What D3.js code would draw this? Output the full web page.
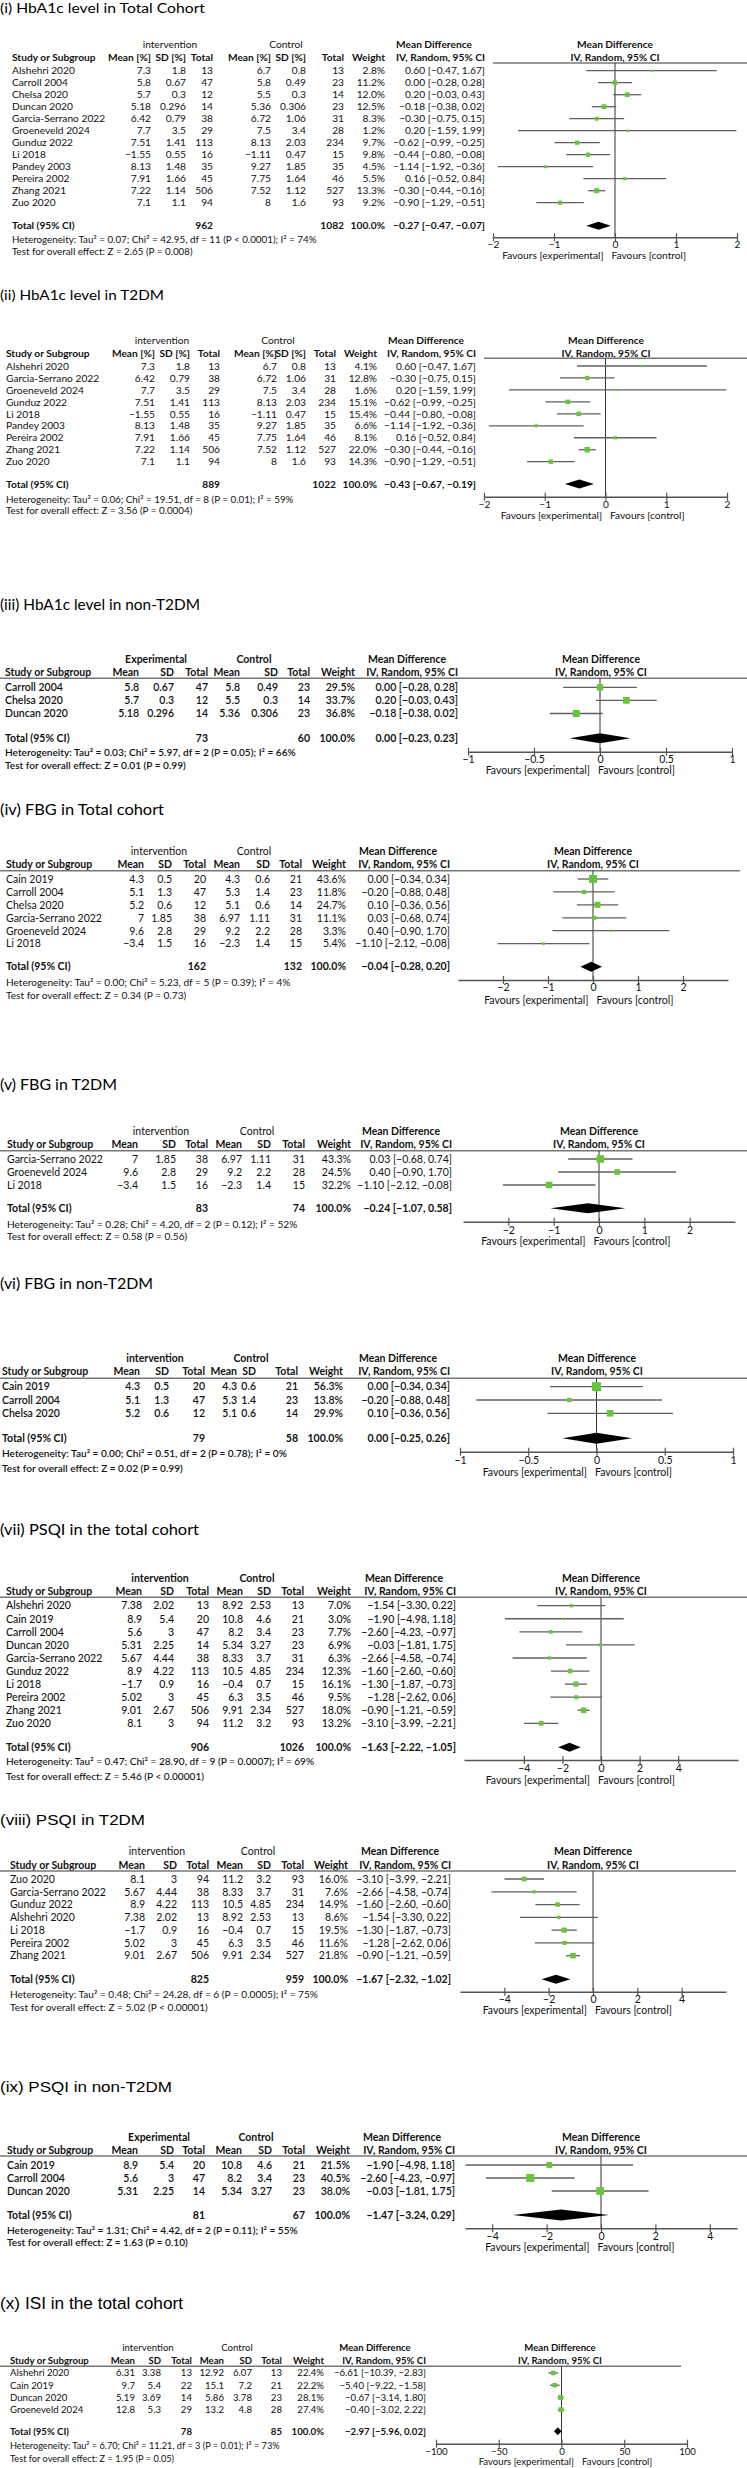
<!DOCTYPE html>
<html><head><meta charset="utf-8">
<script src="https://cdn.jsdelivr.net/npm/d3@7"></script>
<style>body{margin:0;background:#fff}svg{display:block}</style>
</head><body>
<script>
// ---------------- DATA ----------------
// values: [meanI, sdI, nI, meanC, sdC, nC, weight%, MD, lo, hi]
const titles = [
  "(i) HbA1c level in Total Cohort", "(ii) HbA1c level in T2DM", "(iii) HbA1c level in non-T2DM",
  "(iv) FBG in Total cohort", "(v) FBG in T2DM", "(vi) FBG in non-T2DM",
  "(vii) PSQI in the total cohort", "(viii) PSQI in T2DM", "(ix) PSQI in non-T2DM", "(x) ISI in the total cohort"
];
const groupLabels = ["intervention","intervention","Experimental","intervention","intervention","intervention","intervention","intervention","Experimental","intervention"];
const colHeadsPct = ["Mean [%]","SD [%]","Total","Mean [%]","SD [%]","Total","Weight","IV, Random, 95% CI"];
const colHeadsPlain = ["Mean","SD","Total","Mean","SD","Total","Weight","IV, Random, 95% CI"];

const studies1 = ["Alshehri 2020","Carroll 2004","Chelsa 2020","Duncan 2020","Garcia-Serrano 2022","Groeneveld 2024","Gunduz 2022","Li 2018","Pandey 2003","Pereira 2002","Zhang 2021","Zuo 2020"];
const values1 = [
  [7.3,1.8,13,6.7,0.8,13,2.8,0.60,-0.47,1.67],
  [5.8,0.67,47,5.8,0.49,23,11.2,0.00,-0.28,0.28],
  [5.7,0.3,12,5.5,0.3,14,12.0,0.20,-0.03,0.43],
  [5.18,0.296,14,5.36,0.306,23,12.5,-0.18,-0.38,0.02],
  [6.42,0.79,38,6.72,1.06,31,8.3,-0.30,-0.75,0.15],
  [7.7,3.5,29,7.5,3.4,28,1.2,0.20,-1.59,1.99],
  [7.51,1.41,113,8.13,2.03,234,9.7,-0.62,-0.99,-0.25],
  [-1.55,0.55,16,-1.11,0.47,15,9.8,-0.44,-0.80,-0.08],
  [8.13,1.48,35,9.27,1.85,35,4.5,-1.14,-1.92,-0.36],
  [7.91,1.66,45,7.75,1.64,46,5.5,0.16,-0.52,0.84],
  [7.22,1.14,506,7.52,1.12,527,13.3,-0.30,-0.44,-0.16],
  [7.1,1.1,94,8,1.6,93,9.2,-0.90,-1.29,-0.51]
];
const total1 = [962,1082,-0.27,-0.47,-0.07];
const het1 = "Heterogeneity: Tau² = 0.07; Chi² = 42.95, df = 11 (P < 0.0001); I² = 74%";
const test1 = "Test for overall effect: Z = 2.65 (P = 0.008)";
const ticks1 = [-2,-1,0,1,2];

const studies2 = ["Alshehri 2020","Garcia-Serrano 2022","Groeneveld 2024","Gunduz 2022","Li 2018","Pandey 2003","Pereira 2002","Zhang 2021","Zuo 2020"];
const values2 = [
  [7.3,1.8,13,6.7,0.8,13,4.1,0.60,-0.47,1.67],
  [6.42,0.79,38,6.72,1.06,31,12.8,-0.30,-0.75,0.15],
  [7.7,3.5,29,7.5,3.4,28,1.6,0.20,-1.59,1.99],
  [7.51,1.41,113,8.13,2.03,234,15.1,-0.62,-0.99,-0.25],
  [-1.55,0.55,16,-1.11,0.47,15,15.4,-0.44,-0.80,-0.08],
  [8.13,1.48,35,9.27,1.85,35,6.6,-1.14,-1.92,-0.36],
  [7.91,1.66,45,7.75,1.64,46,8.1,0.16,-0.52,0.84],
  [7.22,1.14,506,7.52,1.12,527,22.0,-0.30,-0.44,-0.16],
  [7.1,1.1,94,8,1.6,93,14.3,-0.90,-1.29,-0.51]
];
const total2 = [889,1022,-0.43,-0.67,-0.19];
const het2 = "Heterogeneity: Tau² = 0.06; Chi² = 19.51, df = 8 (P = 0.01); I² = 59%";
const test2 = "Test for overall effect: Z = 3.56 (P = 0.0004)";
const ticks2 = [-2,-1,0,1,2];

const studies3 = ["Carroll 2004","Chelsa 2020","Duncan 2020"];
const values3 = [
  [5.8,0.67,47,5.8,0.49,23,29.5,0.00,-0.28,0.28],
  [5.7,0.3,12,5.5,0.3,14,33.7,0.20,-0.03,0.43],
  [5.18,0.296,14,5.36,0.306,23,36.8,-0.18,-0.38,0.02]
];
const total3 = [73,60,0.00,-0.23,0.23];
const het3 = "Heterogeneity: Tau² = 0.03; Chi² = 5.97, df = 2 (P = 0.05); I² = 66%";
const test3 = "Test for overall effect: Z = 0.01 (P = 0.99)";
const ticks3 = [-1,-0.5,0,0.5,1];

const studies4 = ["Cain 2019","Carroll 2004","Chelsa 2020","Garcia-Serrano 2022","Groeneveld 2024","Li 2018"];
const values4 = [
  [4.3,0.5,20,4.3,0.6,21,43.6,0.00,-0.34,0.34],
  [5.1,1.3,47,5.3,1.4,23,11.8,-0.20,-0.88,0.48],
  [5.2,0.6,12,5.1,0.6,14,24.7,0.10,-0.36,0.56],
  [7,1.85,38,6.97,1.11,31,11.1,0.03,-0.68,0.74],
  [9.6,2.8,29,9.2,2.2,28,3.3,0.40,-0.90,1.70],
  [-3.4,1.5,16,-2.3,1.4,15,5.4,-1.10,-2.12,-0.08]
];
const total4 = [162,132,-0.04,-0.28,0.20];
const het4 = "Heterogeneity: Tau² = 0.00; Chi² = 5.23, df = 5 (P = 0.39); I² = 4%";
const test4 = "Test for overall effect: Z = 0.34 (P = 0.73)";
const ticks4 = [-2,-1,0,1,2];

const studies5 = ["Garcia-Serrano 2022","Groeneveld 2024","Li 2018"];
const values5 = [
  [7,1.85,38,6.97,1.11,31,43.3,0.03,-0.68,0.74],
  [9.6,2.8,29,9.2,2.2,28,24.5,0.40,-0.90,1.70],
  [-3.4,1.5,16,-2.3,1.4,15,32.2,-1.10,-2.12,-0.08]
];
const total5 = [83,74,-0.24,-1.07,0.58];
const het5 = "Heterogeneity: Tau² = 0.28; Chi² = 4.20, df = 2 (P = 0.12); I² = 52%";
const test5 = "Test for overall effect: Z = 0.58 (P = 0.56)";
const ticks5 = [-2,-1,0,1,2];

const studies6 = ["Cain 2019","Carroll 2004","Chelsa 2020"];
const values6 = [
  [4.3,0.5,20,4.3,0.6,21,56.3,0.00,-0.34,0.34],
  [5.1,1.3,47,5.3,1.4,23,13.8,-0.20,-0.88,0.48],
  [5.2,0.6,12,5.1,0.6,14,29.9,0.10,-0.36,0.56]
];
const total6 = [79,58,0.00,-0.25,0.26];
const het6 = "Heterogeneity: Tau² = 0.00; Chi² = 0.51, df = 2 (P = 0.78); I² = 0%";
const test6 = "Test for overall effect: Z = 0.02 (P = 0.99)";
const ticks6 = [-1,-0.5,0,0.5,1];

const studies7 = ["Alshehri 2020","Cain 2019","Carroll 2004","Duncan 2020","Garcia-Serrano 2022","Gunduz 2022","Li 2018","Pereira 2002","Zhang 2021","Zuo 2020"];
const values7 = [
  [7.38,2.02,13,8.92,2.53,13,7.0,-1.54,-3.30,0.22],
  [8.9,5.4,20,10.8,4.6,21,3.0,-1.90,-4.98,1.18],
  [5.6,3,47,8.2,3.4,23,7.7,-2.60,-4.23,-0.97],
  [5.31,2.25,14,5.34,3.27,23,6.9,-0.03,-1.81,1.75],
  [5.67,4.44,38,8.33,3.7,31,6.3,-2.66,-4.58,-0.74],
  [8.9,4.22,113,10.5,4.85,234,12.3,-1.60,-2.60,-0.60],
  [-1.7,0.9,16,-0.4,0.7,15,16.1,-1.30,-1.87,-0.73],
  [5.02,3,45,6.3,3.5,46,9.5,-1.28,-2.62,0.06],
  [9.01,2.67,506,9.91,2.34,527,18.0,-0.90,-1.21,-0.59],
  [8.1,3,94,11.2,3.2,93,13.2,-3.10,-3.99,-2.21]
];
const total7 = [906,1026,-1.63,-2.22,-1.05];
const het7 = "Heterogeneity: Tau² = 0.47; Chi² = 28.90, df = 9 (P = 0.0007); I² = 69%";
const test7 = "Test for overall effect: Z = 5.46 (P < 0.00001)";
const ticks7 = [-4,-2,0,2,4];

const studies8 = ["Zuo 2020","Garcia-Serrano 2022","Gunduz 2022","Alshehri 2020","Li 2018","Pereira 2002","Zhang 2021"];
const values8 = [
  [8.1,3,94,11.2,3.2,93,16.0,-3.10,-3.99,-2.21],
  [5.67,4.44,38,8.33,3.7,31,7.6,-2.66,-4.58,-0.74],
  [8.9,4.22,113,10.5,4.85,234,14.9,-1.60,-2.60,-0.60],
  [7.38,2.02,13,8.92,2.53,13,8.6,-1.54,-3.30,0.22],
  [-1.7,0.9,16,-0.4,0.7,15,19.5,-1.30,-1.87,-0.73],
  [5.02,3,45,6.3,3.5,46,11.6,-1.28,-2.62,0.06],
  [9.01,2.67,506,9.91,2.34,527,21.8,-0.90,-1.21,-0.59]
];
const total8 = [825,959,-1.67,-2.32,-1.02];
const het8 = "Heterogeneity: Tau² = 0.48; Chi² = 24.28, df = 6 (P = 0.0005); I² = 75%";
const test8 = "Test for overall effect: Z = 5.02 (P < 0.00001)";
const ticks8 = [-4,-2,0,2,4];

const studies9 = ["Cain 2019","Carroll 2004","Duncan 2020"];
const values9 = [
  [8.9,5.4,20,10.8,4.6,21,21.5,-1.90,-4.98,1.18],
  [5.6,3,47,8.2,3.4,23,40.5,-2.60,-4.23,-0.97],
  [5.31,2.25,14,5.34,3.27,23,38.0,-0.03,-1.81,1.75]
];
const total9 = [81,67,-1.47,-3.24,0.29];
const het9 = "Heterogeneity: Tau² = 1.31; Chi² = 4.42, df = 2 (P = 0.11); I² = 55%";
const test9 = "Test for overall effect: Z = 1.63 (P = 0.10)";
const ticks9 = [-4,-2,0,2,4];

const studies10 = ["Alshehri 2020","Cain 2019","Duncan 2020","Groeneveld 2024"];
const values10 = [
  [6.31,3.38,13,12.92,6.07,13,22.4,-6.61,-10.39,-2.83],
  [9.7,5.4,22,15.1,7.2,21,22.2,-5.40,-9.22,-1.58],
  [5.19,3.69,14,5.86,3.78,23,28.1,-0.67,-3.14,1.80],
  [12.8,5.3,29,13.2,4.8,28,27.4,-0.40,-3.02,2.22]
];
const total10 = [78,85,-2.97,-5.96,0.02];
const het10 = "Heterogeneity: Tau² = 6.70; Chi² = 11.21, df = 3 (P = 0.01); I² = 73%";
const test10 = "Test for overall effect: Z = 1.95 (P = 0.05)";
const ticks10 = [-100,-50,0,50,100];

// ---------------- LAYOUT (positions only) ----------------
const layouts = [
 {titleY:8, titleSize:13.5, titleW:205, titleFont:"Lato", h1:44, h2:57, lineY:63, lineX:[493,747], row0:70.7, step:12, totalY:225.7, hetY:239.3, testY:251.7, axisY:237.3, tickLabY:244.3, favY:255.7, fav:607.5, domain:[-2,2], range:[493,737], nameX:12, cols:[151,186,213,271,306,344,385,485], grp:[170,286,434], plotHdr:615, fs:10.2, sq:5, dh:4, rowW:400, grpW:400},
 {titleY:295, titleSize:13.5, titleW:164, titleFont:"Lato", h1:340.7, h2:353.3, lineY:358.3, lineX:[484,747], row0:366, step:11.96, totalY:484, hetY:499.3, testY:510, axisY:496.7, tickLabY:504.3, favY:515.7, fav:606, domain:[-2,2], range:[484,727], nameX:6, cols:[155,190,220,277,306,336,377,476], grp:[162,278,426], plotHdr:606, fs:10.2, sq:5.5, dh:4.5, rowW:400, grpW:400},
 {titleY:605, titleSize:14.5, titleW:200, titleFont:"Lato", h1:659.3, h2:672.3, lineY:678.3, lineX:[0,747], row0:687.3, step:13.1, totalY:738.3, hetY:752.7, testY:765.7, axisY:751.7, tickLabY:759, favY:770.7, fav:594, domain:[-1,1], range:[468,732], nameX:5, cols:[139,174,208,240,278,310,355,458], grp:[156,254,407], plotHdr:601, fs:10.5, sq:7, dh:5, rowW:600, grpW:700},
 {titleY:809.3, titleSize:15, titleW:164, titleFont:"Lato", h1:851.7, h2:864.3, lineY:870.7, lineX:[0,740], row0:879, step:12.93, totalY:966.7, hetY:982.3, testY:995, axisY:980, tickLabY:987.7, favY:1000.3, fav:592.5, domain:[-3,3], range:[458,728], nameX:6, cols:[144,172,206,240,270,302,346,450], grp:[159,254,398], plotHdr:593, fs:10.5, sq:8, dh:5, rowW:400, grpW:400},
 {titleY:1084.3, titleSize:16, titleW:117, titleFont:"Lato", h1:1131.7, h2:1144, lineY:1150.7, lineX:[0,747], row0:1159, step:13, totalY:1208.3, hetY:1224, testY:1236.7, axisY:1221.7, tickLabY:1230, favY:1241.7, fav:589.5, domain:[-3,3], range:[463,735], nameX:7, cols:[138,176,208,242,271,305,351,452], grp:[161,257,401], plotHdr:599, fs:10.5, sq:7.5, dh:5, rowW:400, grpW:400},
 {titleY:1283.3, titleSize:15.5, titleW:153, titleFont:"Lato", h1:1358.3, h2:1371.7, lineY:1378.3, lineX:[0,747], row0:1386.7, step:13.3, totalY:1438.3, hetY:1453.3, testY:1468.3, axisY:1451.7, tickLabY:1460, favY:1472.3, fav:591, domain:[-1,1], range:[460,733], nameX:2, cols:[140,169,205,237,256,298,343,450], grp:[155,251,398], plotHdr:597, fs:10.5, sq:9, dh:5.5, rowW:600, grpW:700},
 {titleY:1530, titleSize:15, titleW:199, titleFont:"Lato", h1:1578.3, h2:1591, lineY:1597.3, lineX:[0,747], row0:1605.7, step:13.07, totalY:1747.3, hetY:1761.7, testY:1776, axisY:1760, tickLabY:1768.3, favY:1780, fav:594, domain:[-7.1,7.1], range:[464,738], nameX:6, cols:[142,174,209,243,271,304,351,456], grp:[160,257,404], plotHdr:601, fs:10.5, sq:5.5, dh:4.5, rowW:500, grpW:700},
 {titleY:1820, titleSize:14, titleW:145, titleFont:"Liberation Sans", h1:1851.7, h2:1865, lineY:1871, lineX:[0,736], row0:1879, step:12.78, totalY:1979.3, hetY:1994.3, testY:2007.3, axisY:1991.7, tickLabY:1999, favY:2010.7, fav:591, domain:[-6,6], range:[460,726], nameX:10, cols:[145,177,209,243,271,304,348,451], grp:[157,258,400], plotHdr:593, fs:10.5, sq:5.5, dh:4.5, rowW:400, grpW:400},
 {titleY:2086.7, titleSize:15, titleW:172, titleFont:"Liberation Sans", h1:2137.3, h2:2150, lineY:2156, lineX:[0,747], row0:2165, step:13, totalY:2215, hetY:2230, testY:2242.7, axisY:2228.3, tickLabY:2236, favY:2247.3, fav:593.5, domain:[-5,5], range:[465,737], nameX:7, cols:[138,174,205,242,272,305,350,455], grp:[159,256,402], plotHdr:601, fs:10.5, sq:8, dh:5.5, rowW:600, grpW:700},
 {titleY:2303, titleSize:16, titleW:183, titleFont:"Liberation Sans", h1:2348, h2:2360.7, lineY:2366.3, lineX:[0,681], row0:2373, step:12.23, totalY:2431.3, hetY:2445.7, testY:2458.7, axisY:2443.7, tickLabY:2451.3, favY:2462, fav:578, domain:[-100,100], range:[436,687], nameX:10, cols:[135,161,192,224,252,282,324,426], grp:[148,237,375], plotHdr:560, fs:9.6, sq:5, dh:4, rowW:400, grpW:400}
];

const panels = [
  {studies:studies1, values:values1, total:total1, het:het1, test:test1, ticks:ticks1, heads:colHeadsPct},
  {studies:studies2, values:values2, total:total2, het:het2, test:test2, ticks:ticks2, heads:colHeadsPct},
  {studies:studies3, values:values3, total:total3, het:het3, test:test3, ticks:ticks3, heads:colHeadsPlain},
  {studies:studies4, values:values4, total:total4, het:het4, test:test4, ticks:ticks4, heads:colHeadsPlain},
  {studies:studies5, values:values5, total:total5, het:het5, test:test5, ticks:ticks5, heads:colHeadsPlain},
  {studies:studies6, values:values6, total:total6, het:het6, test:test6, ticks:ticks6, heads:colHeadsPlain},
  {studies:studies7, values:values7, total:total7, het:het7, test:test7, ticks:ticks7, heads:colHeadsPlain},
  {studies:studies8, values:values8, total:total8, het:het8, test:test8, ticks:ticks8, heads:colHeadsPlain},
  {studies:studies9, values:values9, total:total9, het:het9, test:test9, ticks:ticks9, heads:colHeadsPlain},
  {studies:studies10, values:values10, total:total10, het:het10, test:test10, ticks:ticks10, heads:colHeadsPlain}
].map((p,i)=>Object.assign(p,{title:titles[i], group:groupLabels[i]}));

// ---------------- DRAW ----------------
const W = 747, H = 2468;
const GREEN = "#66c53a", TXT = "#111";
const svg = d3.select("body").append("svg").attr("width",W).attr("height",H);
svg.append("rect").attr("width",W).attr("height",H).attr("fill","#fff");

const fmt2 = d3.format(".2f");
const num = v => String(v).replace(/-/g,"\u2212");
const ciStr = (m,l,h) => `${fmt2(m)} [${fmt2(l)}, ${fmt2(h)}]`;

function drawPanel(p, L){
  const g = svg.append("g");
  g.append("text").attr("x",0).attr("y",L.titleY).attr("dy","0.36em")
    .attr("font-family",L.titleFont+", sans-serif").attr("font-size",L.titleSize)
    .attr("textLength",L.titleW).attr("lengthAdjust","spacingAndGlyphs")
    .attr("fill","#000").text(p.title);

  const x = d3.scaleLinear().domain(L.domain).range(L.range);
  const T = (xx,yy,s,anchor,weight,size) => g.append("text")
    .attr("x",xx).attr("y",yy).attr("dy","0.36em")
    .attr("text-anchor",anchor||"start").attr("font-family","Lato, sans-serif")
    .attr("font-size",size||L.fs).attr("font-weight",weight||400)
    .attr("fill",TXT).text(s);

  // headers
  T(L.grp[0],L.h1,p.group,"middle",L.grpW);
  T(L.grp[1],L.h1,"Control","middle",L.grpW);
  T(L.grp[2],L.h1,"Mean Difference","middle",700);
  T(L.plotHdr,L.h1,"Mean Difference","middle",700);
  T(L.nameX,L.h2,"Study or Subgroup","start",700);
  p.heads.forEach((h,i)=>T(L.cols[i],L.h2,h,"end",700));
  T(L.plotHdr,L.h2,"IV, Random, 95% CI","middle",700);
  g.append("line").attr("x1",L.lineX[0]).attr("x2",L.lineX[1])
    .attr("y1",L.lineY).attr("y2",L.lineY).attr("stroke","#777").attr("stroke-width",1.5);

  // zero line
  g.append("line").attr("x1",x(0)).attr("x2",x(0)).attr("y1",L.lineY).attr("y2",L.axisY)
    .attr("stroke","#333").attr("stroke-width",1);

  const yRow = i => L.row0 + i*L.step;
  const wMax = d3.max(p.values, v=>v[6]);
  p.studies.forEach((s,i)=>{
    const v = p.values[i], y = yRow(i);
    T(L.nameX,y,s,"start",L.rowW);
    for(let c=0;c<6;c++) T(L.cols[c],y,num(v[c]),"end",L.rowW);
    T(L.cols[6],y,v[6].toFixed(1)+"%","end",L.rowW);
    T(L.cols[7],y,ciStr(v[7],v[8],v[9]),"end",L.rowW);
    g.append("line").attr("x1",x(v[8])).attr("x2",x(v[9])).attr("y1",y).attr("y2",y)
      .attr("stroke","#606060").attr("stroke-width",1.3);
    const side = Math.max(2.2, L.sq*Math.sqrt(v[6]/wMax));
    g.append("rect").attr("x",x(v[7])-side/2).attr("y",y-side/2)
      .attr("width",side).attr("height",side).attr("fill",GREEN);
  });

  // total
  const t = p.total;
  T(L.nameX,L.totalY,"Total (95% CI)","start",700);
  T(L.cols[2],L.totalY,t[0],"end",700);
  T(L.cols[5],L.totalY,t[1],"end",700);
  T(L.cols[6],L.totalY,"100.0%","end",700);
  T(L.cols[7],L.totalY,ciStr(t[2],t[3],t[4]),"end",700);
  const yt = L.totalY;
  g.append("polygon").attr("points",[[x(t[3]),yt],[x(t[2]),yt-L.dh],[x(t[4]),yt],[x(t[2]),yt+L.dh]].map(d=>d.join(",")).join(" "))
    .attr("fill","#000");

  T(L.nameX,L.hetY,p.het,"start",L.rowW,L.fs-0.4);
  T(L.nameX,L.testY,p.test,"start",L.rowW,L.fs-0.4);

  // axis
  const ax = d3.axisBottom(x).tickValues(p.ticks).tickSizeInner(4).tickSizeOuter(0).tickFormat(d3.format("~g"));
  const ag = g.append("g").attr("transform",`translate(0,${L.axisY})`).call(ax);
  ag.select(".domain").attr("stroke","#555").attr("stroke-width",1.4);
  ag.selectAll(".tick line").attr("y1",-4).attr("y2",4).attr("stroke","#555").attr("stroke-width",1.2);
  ag.selectAll(".tick text").attr("y",L.tickLabY-L.axisY).attr("dy","0.36em")
    .attr("font-family","Lato, sans-serif").attr("font-size",L.fs).attr("fill",TXT);

  T(L.fav-4,L.favY,"Favours [experimental]","end",400);
  T(L.fav+4,L.favY,"Favours [control]","start",400);
}

panels.forEach((p,i)=>drawPanel(p, layouts[i]));
</script>
</body></html>
